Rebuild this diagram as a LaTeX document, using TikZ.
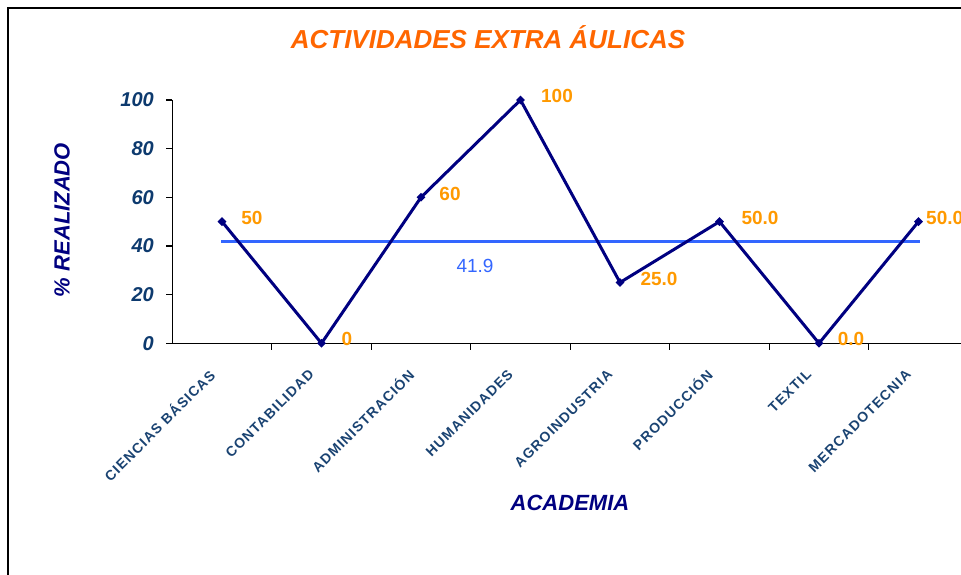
\documentclass[tikz,border=0pt]{standalone}
\usepackage{fontspec}
\setmainfont{Liberation Sans}
\newfontfamily\catfont[LetterSpace=8]{Liberation Sans Bold}
\usetikzlibrary{shapes.geometric}
\definecolor{titleor}{HTML}{FF6600}
\definecolor{valor}{HTML}{FF9900}
\definecolor{serie}{HTML}{000080}
\definecolor{tickblue}{HTML}{0D3A6E}
\definecolor{avgblue}{HTML}{3366FF}
\definecolor{catblue}{HTML}{1A4372}
\tikzset{
  frameline/.style={line width=2.5pt, black},
  axisline/.style={line width=1.4pt, black},
  tickline/.style={line width=1.2pt, black},
  seriesline/.style={line width=3pt, serie, line join=round},
  avgline/.style={line width=3pt, avgblue},
  marker/.style={diamond, fill=serie, inner sep=0pt, minimum size=9pt},
  vallabel/.style={text=valor, font=\fontsize{19}{22}\selectfont\bfseries, inner sep=0pt},
  ticklabel/.style={text=tickblue, font=\fontsize{20}{23}\selectfont\bfseries\itshape, anchor=east, inner sep=0pt},
  catlabel/.style={text=catblue, font=\catfont\fontsize{14}{15}\selectfont, rotate=45, anchor=east, inner sep=0pt},
}
\begin{document}
\begin{tikzpicture}[x=1pt,y=-1pt]
\useasboundingbox (0,0) rectangle (961,575);
% frame
\draw[frameline] (8,575) -- (8,8) -- (961,8);
% title
\node[text=titleor, font=\fontsize{26}{30}\selectfont\bfseries\itshape] (title) at (488,37) {ACTIVIDADES EXTRA ÁULICAS};
% axes
\coordinate (o) at (172.3,343.3);
\coordinate (ytop) at (172.3,100);
\coordinate (xend) at (961,343.3);
\draw[axisline] (ytop) -- (o) -- (xend);
% y ticks and labels
\foreach \v in {0,20,40,60,80,100}{
  \draw[tickline] ({166},{343.3-2.433*\v}) -- ({172.3},{343.3-2.433*\v});
  \node[ticklabel] (yl\v) at ({154},{343.3-2.433*\v}) {\v};
}
% x ticks
\foreach \i in {1,...,8}{
  \draw[tickline] ({172.3+99.5*\i},343.3) -- ({172.3+99.5*\i},349.5);
}
% axis titles
\node[text=serie, font=\fontsize{22}{25}\selectfont\bfseries\itshape, rotate=90] (ytitle) at (62,220) {\% REALIZADO};
\node[text=serie, font=\fontsize{22}{25}\selectfont\bfseries\itshape] (xtitle) at (570,503) {ACADEMIA};
% category labels
\foreach \i/\t in {1/CIENCIAS BÁSICAS,2/CONTABILIDAD,3/ADMINISTRACIÓN,4/HUMANIDADES,5/AGROINDUSTRIA,6/PRODUCCIÓN,7/TEXTIL,8/MERCADOTECNIA}{
  \node[catlabel] (cat\i) at ({222+99.5*(\i-1)-10},{372}) {\t};
}
% average line
\coordinate (a1) at (221,241.4);
\coordinate (a2) at (920,241.4);
\draw[avgline] (a1) -- (a2);
\node[text=avgblue, font=\fontsize{19}{22}\selectfont, inner sep=0pt] (avg) at (475,266) {41.9};
% data points
\node[marker] (p1) at (222,221.6) {};
\node[marker] (p2) at (321.5,343.3) {};
\node[marker] (p3) at (421,197.3) {};
\node[marker] (p4) at (520.5,100) {};
\node[marker] (p5) at (620,282.5) {};
\node[marker] (p6) at (719.5,221.6) {};
\node[marker] (p7) at (819,343.3) {};
\node[marker] (p8) at (918.5,221.6) {};
\draw[seriesline] (p1.center) -- (p2.center) -- (p3.center) -- (p4.center) -- (p5.center) -- (p6.center) -- (p7.center) -- (p8.center);
% value labels
\node[vallabel] (v1) at (252,218) {50};
\node[vallabel] (v2) at (347,339) {0};
\node[vallabel] (v3) at (450,194) {60};
\node[vallabel] (v4) at (557,96) {100};
\node[vallabel] (v5) at (659,279) {25.0};
\node[vallabel] (v6) at (760,218) {50.0};
\node[vallabel] (v7) at (851,339) {0.0};
\node[vallabel, anchor=west] (v8) at (926,218) {50.0};
\end{tikzpicture}
\end{document}
